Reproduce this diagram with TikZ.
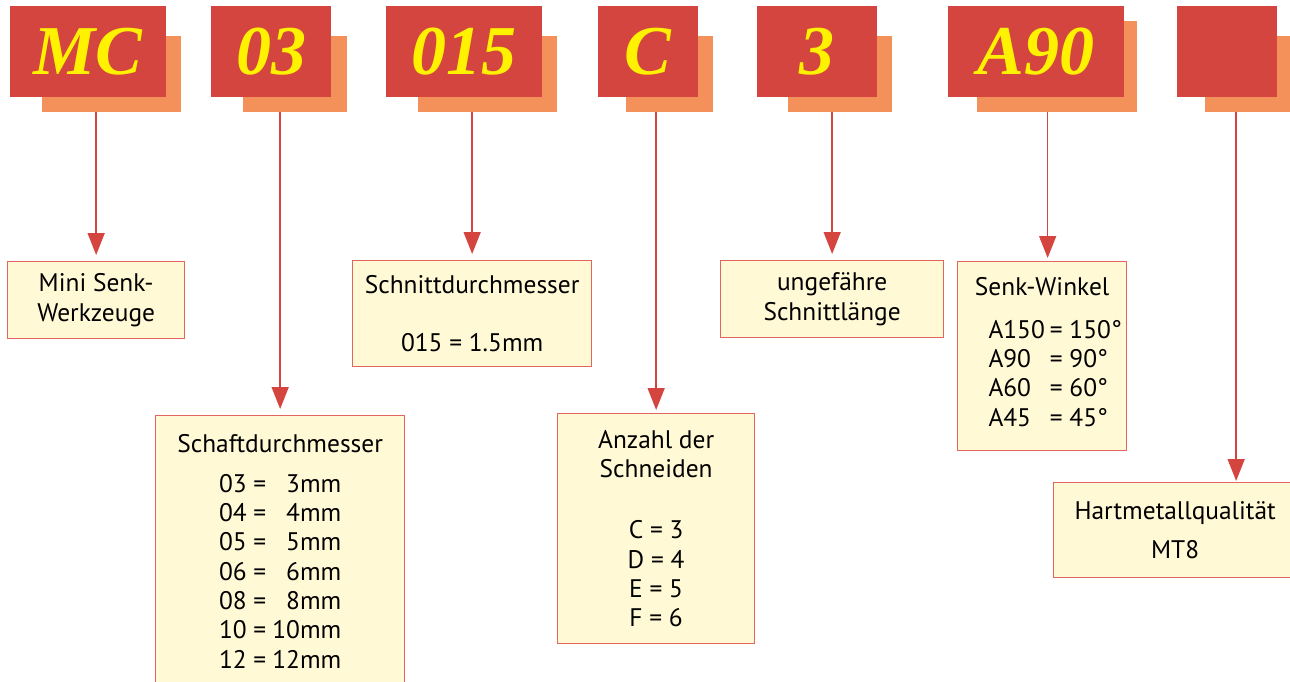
\documentclass[tikz,border=0pt]{standalone}
\usepackage{fontspec}
\setmainfont{PT Sans}
\newfontfamily\codefont{Liberation Serif}
\usetikzlibrary{arrows.meta}
\definecolor{codered}{HTML}{D5453F}
\definecolor{shadoworange}{HTML}{F4915B}
\definecolor{codeyellow}{HTML}{FFF200}
\definecolor{infofill}{HTML}{FFF9D5}
\definecolor{infoline}{HTML}{E2665D}
\tikzset{
  codebox/.style={fill=codered, anchor=north west, inner sep=0pt, text=codeyellow,
    font=\codefont\bfseries\itshape\fontsize{70}{70}\selectfont},
  shadowbox/.style={fill=shadoworange, anchor=north west, inner sep=0pt},
  infobox/.style={draw=infoline, fill=infofill, line width=1.3pt, anchor=north west,
    inner sep=0pt, align=center, font=\fontsize{25.4}{29.3}\selectfont},
  conn/.style={draw=codered, line width=1.5pt, -{Triangle[width=17pt,length=22pt]}, shorten >=6pt},
}

\begin{document}
\begin{tikzpicture}[x=1pt,y=-1pt]
\useasboundingbox (0,0) rectangle (1290,682);
% shadows behind the code letters
\node[shadowbox, minimum width=139pt, minimum height=76pt] (mcs) at (42,36) {};
\node[shadowbox, minimum width=104pt, minimum height=76pt] (zs) at (243,36) {};
\node[shadowbox, minimum width=139pt, minimum height=76pt] (ds) at (418,36) {};
\node[shadowbox, minimum width=87pt, minimum height=76pt] (cs) at (626,36) {};
\node[shadowbox, minimum width=104pt, minimum height=76pt] (ls) at (788,36) {};
\node[shadowbox, minimum width=160pt, minimum height=91pt] (ws) at (977,21) {};
\node[shadowbox, minimum width=100pt, minimum height=76pt] (qs) at (1205,36) {};
% code letters
\node[codebox, minimum width=156pt, minimum height=91pt] (mc) at (10,6) {MC};
\node[codebox, minimum width=120pt, minimum height=91pt] (z) at (211,6) {03};
\node[codebox, minimum width=156pt, minimum height=91pt] (d) at (386,6) {015};
\node[codebox, minimum width=100pt, minimum height=91pt] (c) at (598,6) {C};
\node[codebox, minimum width=120pt, minimum height=91pt] (l) at (757,6) {3};
\node[codebox, minimum width=176pt, minimum height=91pt] (w) at (948,6) {A90};
\node[codebox, minimum width=100pt, minimum height=91pt] (q) at (1177,6) {};
% explanations
\node[infobox, minimum width=177pt, minimum height=77pt] (ms) at (7,261)
  {Mini Senk-\\Werkzeuge};
\node[infobox, minimum width=249pt, minimum height=280pt] (sd) at (155,415)
  {Schaftdurchmesser\\[18pt]
   \begin{tabular}{@{}l@{\hspace{6pt}}r@{}}
   03 = & 3mm\\ 04 = & 4mm\\ 05 = & 5mm\\ 06 = & 6mm\\
   08 = & 8mm\\ 10 = & 10mm\\ 12 = & 12mm
   \end{tabular}};
\node[infobox, minimum width=239pt, minimum height=106pt] (nd) at (352,260)
  {Schnittdurchmesser\\[28pt]015 = 1.5mm};
\node[infobox, minimum width=197pt, minimum height=230pt] (an) at (557,413)
  {Anzahl der\\Schneiden\\[32pt]C = 3\\D = 4\\E = 5\\F = 6};
\node[infobox, minimum width=223pt, minimum height=77pt] (ug) at (720,260)
  {ungefähre\\Schnittlänge};
\node[infobox, minimum width=169pt, minimum height=189pt] (sw) at (957,261)
  {Senk-Winkel\\[21pt]
   \hspace*{26pt}\begin{tabular}{@{}l@{\hspace{5pt}}l@{}}
   A150 & = 150\textdegree\\ A90 & = 90\textdegree\\
   A60 & = 60\textdegree\\ A45 & = 45\textdegree
   \end{tabular}};
\node[infobox, minimum width=243pt, minimum height=95pt] (hq) at (1053,482)
  {Hartmetallqualität\\[10pt]MT8};
% connectors
\draw[conn] (mcs.south -| ms.north) -- (ms.north);
\draw[conn] (zs.south -| sd.north) -- (sd.north);
\draw[conn] (ds.south -| nd.north) -- (nd.north);
\draw[conn, shorten >=3pt] (cs.south -| an.north) -- (an.north);
\draw[conn] (ls.south -| ug.north) -- (ug.north);
\draw[conn, shorten >=3pt] ([xshift=5.5pt]sw.north |- ws.south) -- ([xshift=5.5pt]sw.north);
\draw[conn, shorten >=1pt] ([xshift=61pt]hq.north |- qs.south) -- ([xshift=61pt]hq.north);
\end{tikzpicture}
\end{document}
